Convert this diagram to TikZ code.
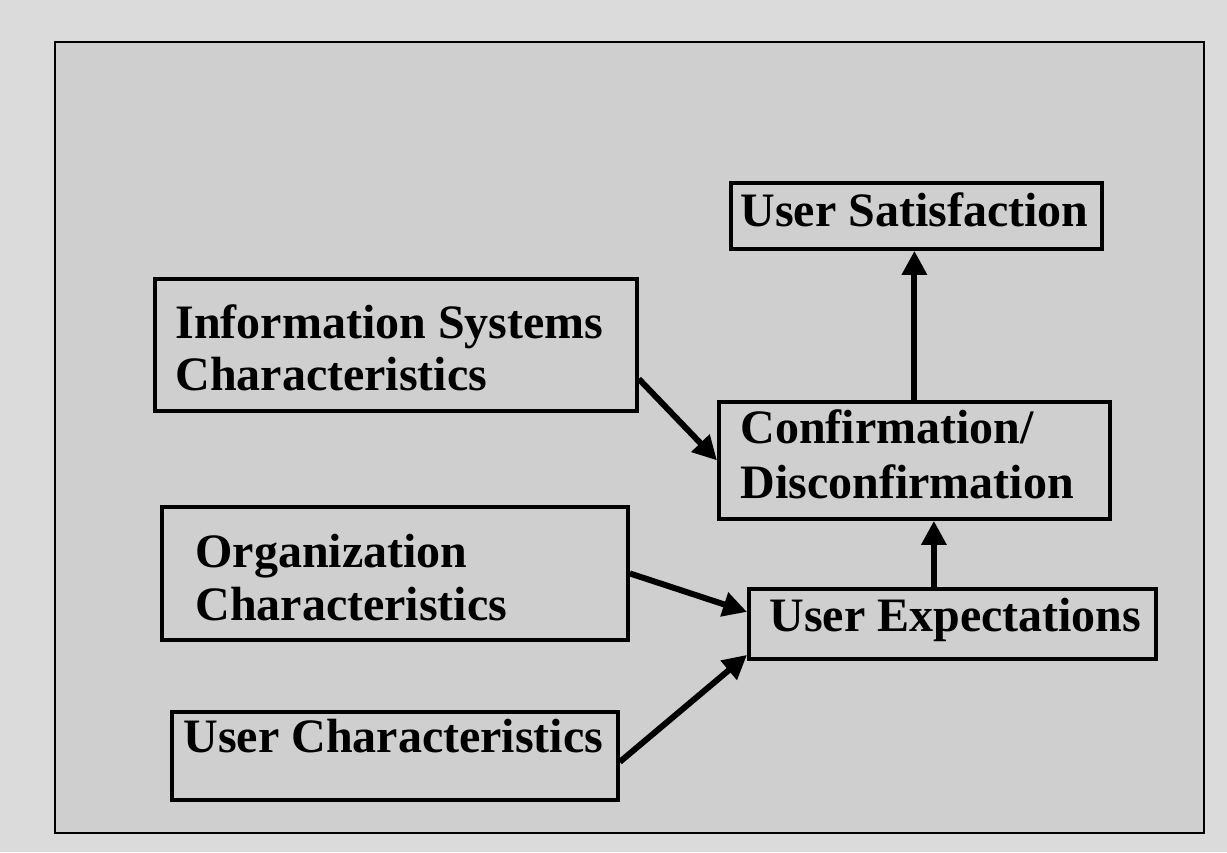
\documentclass[tikz,border=0pt]{standalone}
\usepackage{fontspec}
\setmainfont{Liberation Serif}
\usetikzlibrary{arrows.meta}
\begin{document}
\begin{tikzpicture}[x=0.5pt,y=-0.5pt,
  box/.style={draw=black, line width=1.9pt, rectangle, inner sep=0pt, anchor=north west},
  lbl/.style={anchor=base west, inner sep=0pt, font=\fontsize{24}{28}\selectfont\bfseries},
  arr/.style={line width=3pt, -{Triangle[length=12pt,width=12pt]}}]

% page and framed panel
\fill[black!14] (0,0) rectangle (1227,852);
\useasboundingbox (0,0) rectangle (1227,852);
\fill[black!19] (55,42) rectangle (1204,833);
\draw[line width=1.1pt] (55,42) rectangle (1204,833);

% boxes
\node[box, minimum width=185.5pt, minimum height=33pt]   (us)   at (729,181) {};
\node[box, minimum width=241pt,   minimum height=66pt]   (info) at (153,277) {};
\node[box, minimum width=195.5pt, minimum height=58.5pt] (conf) at (717,400) {};
\node[box, minimum width=233pt,   minimum height=66.5pt] (org)  at (160,505) {};
\node[box, minimum width=203.5pt, minimum height=35pt]   (ue)   at (747,587) {};
\node[box, minimum width=223pt,   minimum height=44pt]   (uc)   at (170,710) {};

% labels
\node[lbl] (usT)    at (740,226) {User Satisfaction};
\node[lbl] (infoT1) at (175,338) {Information Systems};
\node[lbl] (infoT2) at (175,390) {Characteristics};
\node[lbl] (confT1) at (740,443) {Confirmation/};
\node[lbl] (confT2) at (740,498) {Disconfirmation};
\node[lbl] (orgT1)  at (195,567) {Organization};
\node[lbl] (orgT2)  at (195,620) {Characteristics};
\node[lbl] (ucT)    at (183,752) {User Characteristics};
\node[lbl] (ueT)    at (769,631) {User Expectations};

% connectors
\draw[arr] ([yshift=-17pt]info.east) -- (conf.west);
\draw[arr] (org.east) -- ([yshift=6pt]ue.west);
\draw[arr] ([yshift=-3pt]uc.east) -- ([yshift=-15.5pt]ue.west);
\draw[arr] ([xshift=-9.25pt]ue.north) -- ([xshift=-9.25pt]ue.north |- conf.south);
\draw[arr] (conf.north) -- (conf.north |- us.south);
\end{tikzpicture}
\end{document}
